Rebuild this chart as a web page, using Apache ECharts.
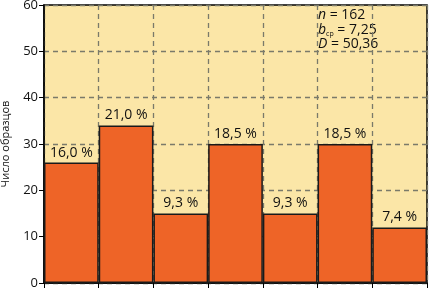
<!DOCTYPE html>
<html>
<head>
<meta charset="utf-8">
<script src="https://cdn.jsdelivr.net/npm/echarts@6/dist/echarts.min.js"></script>
<style>
  html, body { margin: 0; padding: 0; background: #fff; }
  #chart { width: 429px; height: 289px; }
</style>
</head>
<body>
<div id="chart"></div>
<script>
var bins = ['1', '2', '3', '4', '5', '6', '7'];
var counts = [26, 34, 15, 30, 15, 30, 12];
var percents = ['16,0 %', '21,0 %', '9,3 %', '18,5 %', '9,3 %', '18,5 %', '7,4 %'];
var yTicks = [0, 10, 20, 30, 40, 50, 60];
var stats = { n: '162', b: '7,25', D: '50,36' };

var font = 'Open Sans';

var option = {
  animation: false,
  grid: {
    left: 44, right: 2, top: 5, bottom: 6,
    outerBoundsMode: 'none',
    containLabel: false,
    show: true,
    backgroundColor: '#FBE6A7',
    borderColor: '#000',
    borderWidth: 1.5
  },
  xAxis: {
    type: 'category',
    data: bins,
    boundaryGap: true,
    axisLine: { lineStyle: { color: '#000', width: 1.5 } },
    axisTick: { show: true, length: 5, lineStyle: { color: '#000' } },
    axisLabel: { show: false },
    splitLine: { show: true, lineStyle: { color: '#7a7a6a', type: [5, 4], width: 1.3 } }
  },
  yAxis: {
    type: 'value',
    min: yTicks[0],
    max: yTicks[yTicks.length - 1],
    interval: 10,
    name: 'Число образцов',
    nameLocation: 'middle',
    nameGap: 33,
    nameTextStyle: { fontFamily: font, fontSize: 11, color: '#111' },
    axisLine: { show: true, lineStyle: { color: '#000', width: 1.5 } },
    axisTick: { show: true, length: 5, lineStyle: { color: '#000' } },
    axisLabel: { fontFamily: font, fontSize: 13, color: '#111', margin: 6 },
    splitLine: { show: true, lineStyle: { color: '#7a7a6a', type: [5, 4], width: 1.3 } }
  },
  series: [{
    type: 'bar',
    data: counts,
    barWidth: '100%',
    barCategoryGap: '0%',
    itemStyle: { color: '#EE6427', borderColor: '#1a1a1a', borderWidth: 1.5 },
    label: {
      show: true,
      position: 'top',
      distance: 3,
      fontFamily: font,
      fontSize: 14,
      color: '#111',
      formatter: function (p) { return percents[p.dataIndex]; }
    }
  }],
  graphic: [{
    type: 'text',
    left: 318,
    top: 8,
    style: {
      text: '{i|n} = ' + stats.n + '\n{i|b}{sub|ср} = ' + stats.b + '\n{i|D} = ' + stats.D,
      fontFamily: font,
      fontSize: 14,
      fill: '#111',
      lineHeight: 14.5,
      rich: {
        i: { fontStyle: 'italic', fontFamily: font, fontSize: 14, fill: '#111' },
        sub: { fontFamily: font, fontSize: 7, fill: '#111', verticalAlign: 'bottom', padding: [6, 0, 0, 0] }
      }
    }
  }]
};

var myChart = echarts.init(document.getElementById('chart'));
myChart.setOption(option);
</script>
</body>
</html>
